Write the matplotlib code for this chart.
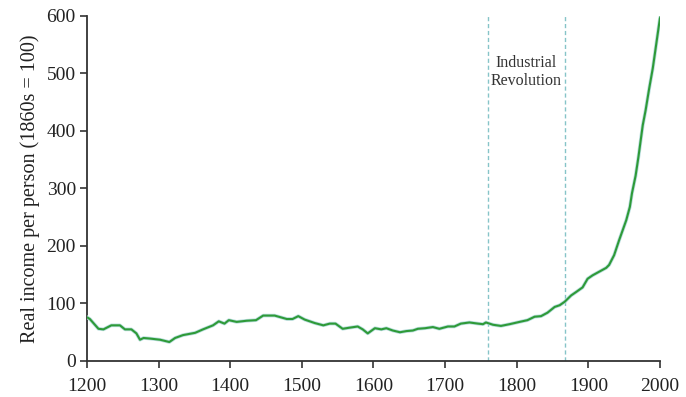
import matplotlib
matplotlib.use("Agg")
import matplotlib.pyplot as plt
import matplotlib.patheffects as pe

years = [1200, 1204, 1216, 1223, 1234, 1246, 1253, 1262, 1269, 1274, 1279, 1288, 1302, 1315,
         1323, 1334, 1351, 1362, 1376, 1384, 1392, 1398, 1409, 1423, 1436, 1441, 1446, 1462,
         1479, 1487, 1495, 1504, 1518, 1530, 1539, 1547, 1557, 1567, 1578, 1585, 1592, 1602,
         1611, 1618, 1627, 1637, 1646, 1655, 1662, 1672, 1683, 1692, 1704, 1713, 1722, 1734,
         1746, 1753, 1757, 1767, 1778, 1790, 1804, 1815, 1825, 1834, 1843, 1853, 1860, 1867,
         1876, 1883, 1892, 1899, 1906, 1925, 1929, 1936, 1943, 1953, 1958, 1961, 1964, 1966,
         1970, 1976, 1980, 1985, 1990, 1993, 1997, 2000, 2002]
income = [76, 73, 56, 55, 62, 62, 55, 55, 48, 37, 40, 39, 37, 33,
          40, 45, 49, 55, 62, 69, 65, 71, 68, 70, 71, 75, 79, 79,
          73, 73, 78, 72, 66, 62, 65, 65, 56, 58, 60, 55, 48, 57,
          55, 57, 53, 50, 52, 53, 56, 57, 59, 56, 60, 60, 65, 67,
          65, 64, 67, 63, 61, 64, 68, 71, 77, 78, 84, 94, 97, 103,
          114, 120, 128, 143, 149, 162, 167, 184, 210, 245, 268, 292, 310, 322,
          355, 410, 436, 474, 509, 535, 570, 596, 602]

ir_start, ir_end = 1760, 1867
annotation = "Industrial\nRevolution"
ylabel = "Real income per person (1860s = 100)"
xticks = [1200, 1300, 1400, 1500, 1600, 1700, 1800, 1900, 2000]
yticks = [0, 100, 200, 300, 400, 500, 600]

plt.rcParams['font.family'] = ['Liberation Serif', 'DejaVu Serif']

fig = plt.figure(figsize=(6.86, 3.97), dpi=100)
ax = fig.add_axes([0.1268, 0.0907, 0.962 - 0.1268, 0.9597 - 0.0907])

ax.plot(years, income, color='#2e9a38', lw=1.5, solid_joinstyle='round',
        path_effects=[pe.Stroke(linewidth=2.6, foreground='#b9dede'), pe.Normal()],
        clip_on=True, zorder=3)

for xv in (ir_start, ir_end):
    ax.axvline(xv, color='#86c4c8', lw=1.0, ls=(0, (3, 2)), zorder=2)

ax.text((ir_start + ir_end) / 2, 503, annotation, ha='center', va='center',
        fontsize=11.5, color='#333333', linespacing=1.2)

ax.set_xlim(1200, 2000)
ax.set_ylim(0, 600)
ax.set_xticks(xticks)
ax.set_yticks(yticks)
ax.set_ylabel(ylabel, fontsize=14.5, color='#222222', labelpad=5)

for s in ('top', 'right'):
    ax.spines[s].set_visible(False)
for s in ('left', 'bottom'):
    ax.spines[s].set_color('#333333')
    ax.spines[s].set_linewidth(1.3)
ax.tick_params(axis='both', direction='out', length=5, width=1.2, color='#333333',
               labelsize=14, labelcolor='#222222')
ax.tick_params(axis='x', pad=7)
ax.tick_params(axis='y', pad=3)

fig.savefig("out.png", dpi=100)
